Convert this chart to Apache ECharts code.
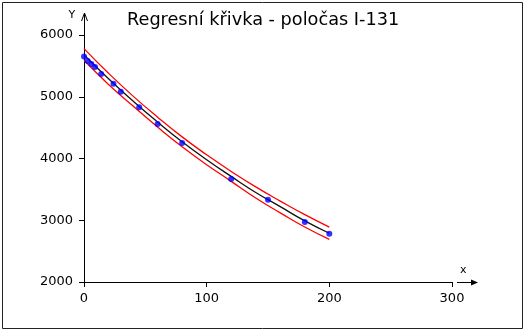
<!DOCTYPE html>
<html>
<head>
<meta charset="utf-8">
<script src="https://cdn.jsdelivr.net/npm/echarts@6/dist/echarts.min.js"></script>
<style>
  html, body { margin: 0; padding: 0; background: #fff; }
  #chart { width: 525px; height: 331px; }
</style>
</head>
<body>
<div id="chart"></div>
<script>
// measured points
const measX = [0, 3, 6, 9, 14, 24, 30, 45, 60, 80, 120, 150, 180, 200];
const measY = [5650, 5580, 5530, 5480, 5370, 5210, 5080, 4830, 4560, 4250, 3670, 3330, 2970, 2780];

// regression curve and its band
const curveX = [0, 20, 40, 60, 80, 100, 120, 140, 160, 180, 200];
const fitY = [5680, 5290, 4930, 4590, 4270, 3980, 3710, 3450, 3220, 2990, 2790];
const upperY = [5780, 5380, 5010, 4670, 4350, 4060, 3790, 3540, 3310, 3090, 2890];
const lowerY = [5590, 5200, 4850, 4510, 4190, 3900, 3630, 3360, 3120, 2890, 2690];

const titleText = "Regresní křivka - poločas I-131";
const xName = "x";
const yName = "Y";

const pairs = (xs, ys) => xs.map((x, i) => [x, ys[i]]);

const chart = echarts.init(document.getElementById("chart"));

const axisText = { color: "#000", fontFamily: "DejaVu Sans", fontSize: 13, formatter: (v) => String(v) };

const lineSeries = (name, ys, color) => ({
  name,
  type: "line",
  data: pairs(curveX, ys),
  smooth: true,
  showSymbol: false,
  lineStyle: { color, width: 1.3 },
  silent: true,
});

chart.setOption({
  animation: false,
  title: {
    text: titleText,
    left: 127,
    top: 11,
    padding: 0,
    textStyle: { fontFamily: "DejaVu Sans", fontSize: 17.7, fontWeight: "normal", color: "#000" },
  },
  grid: { left: 84, right: 73, top: 35, bottom: 49 },
  xAxis: {
    type: "value",
    min: 0,
    max: 300,
    interval: 100,
    splitLine: { show: false },
    axisLine: { onZero: false, lineStyle: { color: "#000", width: 1 } },
    axisTick: { length: 5, lineStyle: { color: "#000" } },
    axisLabel: { ...axisText, margin: 10 },
  },
  yAxis: {
    type: "value",
    min: 2000,
    max: 6000,
    interval: 1000,
    splitLine: { show: false },
    axisLine: { show: true, onZero: false, lineStyle: { color: "#000", width: 1 } },
    axisTick: { show: true, length: 5, lineStyle: { color: "#000" } },
    axisLabel: { ...axisText, margin: 11 },
  },
  series: [
    lineSeries("upper", upperY, "#ff0000"),
    lineSeries("lower", lowerY, "#ff0000"),
    lineSeries("fit", fitY, "#111"),
    {
      name: "measured",
      type: "scatter",
      data: pairs(measX, measY),
      symbolSize: 6,
      itemStyle: { color: "#0000ff" },
      z: 5,
    },
  ],
});

// frame, axis arrows and axis names
const origin = chart.convertToPixel({ gridIndex: 0 }, [0, 2000]);
const xEnd = chart.convertToPixel({ gridIndex: 0 }, [300, 2000]);
const yEnd = chart.convertToPixel({ gridIndex: 0 }, [0, 6000]);
const ax = origin[0] + 0.5;
const ay = origin[1] + 0.5;

chart.setOption({
  graphic: [
    {
      type: "rect",
      shape: { x: 2.5, y: 2.5, width: 520, height: 326 },
      style: { fill: "none", stroke: "#222", lineWidth: 1 },
      silent: true,
    },
    // y axis extension + arrow head
    {
      type: "polyline",
      shape: { points: [[ax, yEnd[1]], [ax, yEnd[1] - 21]] },
      style: { stroke: "#000", lineWidth: 1 },
    },
    {
      type: "polyline",
      shape: { points: [[ax - 3, yEnd[1] - 14], [ax, yEnd[1] - 22], [ax + 3, yEnd[1] - 14]] },
      style: { stroke: "#000", lineWidth: 1, fill: "none" },
    },
    // x axis arrow
    {
      type: "polyline",
      shape: { points: [[xEnd[0] + 5, ay], [xEnd[0] + 20, ay]] },
      style: { stroke: "#000", lineWidth: 1 },
    },
    {
      type: "polygon",
      shape: { points: [[xEnd[0] + 19, ay - 3], [xEnd[0] + 26, ay], [xEnd[0] + 19, ay + 3]] },
      style: { fill: "#000" },
    },
    {
      type: "text",
      x: ax - 16,
      y: yEnd[1] - 25,
      style: { text: yName, fontFamily: "DejaVu Sans", fontSize: 11, fill: "#000" },
    },
    {
      type: "text",
      x: xEnd[0] + 8,
      y: ay - 18,
      style: { text: xName, fontFamily: "DejaVu Sans", fontSize: 11, fill: "#000" },
    },
  ],
});
</script>
</body>
</html>
